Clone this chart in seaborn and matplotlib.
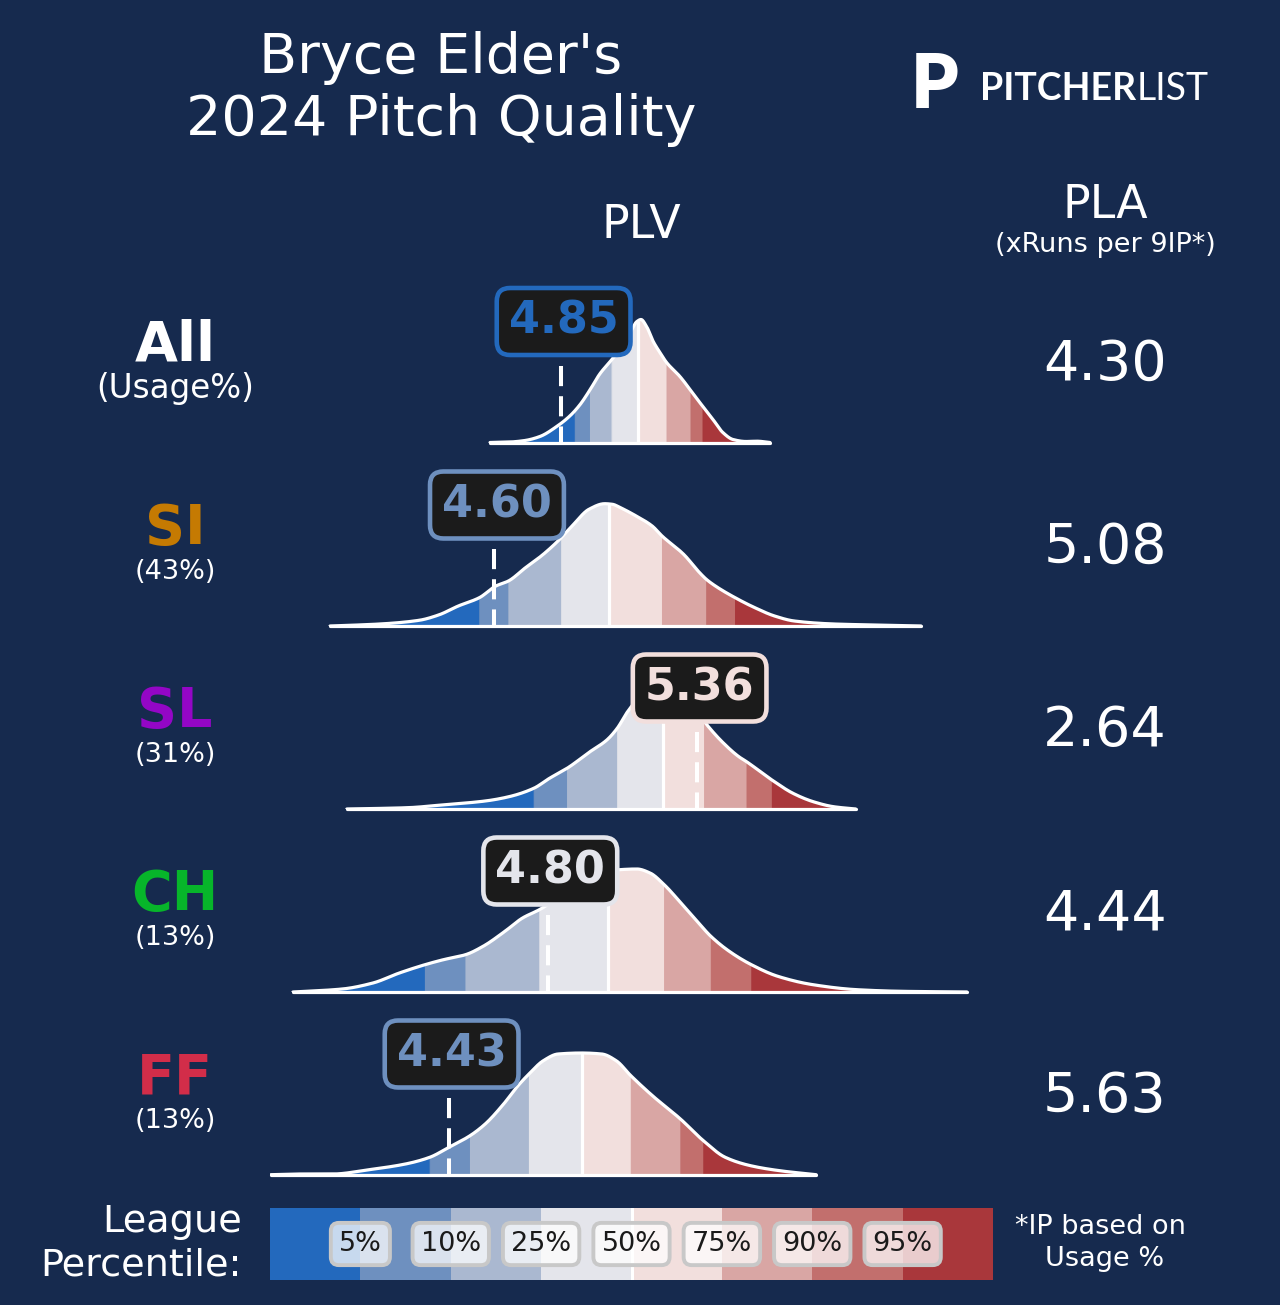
import numpy as np
import matplotlib
matplotlib.use("Agg")
import matplotlib.pyplot as plt
from matplotlib.colors import ListedColormap
import seaborn as sns

# ---------------- data ----------------
pitch_names = ["All", "SI", "SL", "CH", "FF"]
usage_labels = ["(Usage%)", "(43%)", "(31%)", "(13%)", "(13%)"]
name_colors = ["#ffffff", "#c57a02", "#9406c6", "#07b52a", "#d22d49"]
plv_values = [4.85, 4.60, 5.36, 4.80, 4.43]
pla_values = ["4.30", "5.08", "2.64", "4.44", "5.63"]
percentile_labels = ["5%", "10%", "25%", "50%", "75%", "90%", "95%"]

# league distributions (PLV grid, relative density)
all_x = [4.584, 4.659, 4.715, 4.771, 4.834, 4.884, 4.921, 4.959, 4.996, 5.040, 5.079, 5.109, 5.135,
         5.150, 5.171, 5.196, 5.221, 5.246, 5.296, 5.345, 5.382, 5.420, 5.457, 5.495, 5.544, 5.585, 5.634]
all_d = [0, 0.5, 2, 6, 16, 26.7, 37.7, 52.7, 68.7, 82.7, 96, 110, 121,
         123, 116, 101, 90, 80, 66, 49, 36, 23, 10, 3, 1, 1.3, 0]
all_cuts = [4.902, 4.959, 5.040, 5.139, 5.246, 5.336, 5.381]

si_x = [3.984, 4.171, 4.318, 4.391, 4.465, 4.544, 4.606, 4.653, 4.717, 4.776, 4.835, 4.895, 4.955, 5.014,
        5.043, 5.073, 5.132, 5.192, 5.229, 5.310, 5.370, 5.395, 5.429, 5.503, 5.577, 5.651, 5.725, 5.874,
        6.024, 6.200]
si_d = [0, 2, 5.7, 11, 20, 28.3, 40, 45, 58.3, 70, 84, 101, 116.7, 122.3,
        121.7, 118.3, 110, 100, 90, 71.7, 53.3, 46.7, 40, 28.3, 18.3, 10, 5, 2, 1, 0]
si_cuts = [4.544, 4.653, 4.851, 5.030, 5.229, 5.395, 5.503]

sl_x = [4.047, 4.275, 4.402, 4.566, 4.655, 4.748, 4.807, 4.873, 4.959, 5.022, 5.061, 5.099, 5.146, 5.191,
        5.240, 5.296, 5.352, 5.403, 5.454, 5.517, 5.546, 5.641, 5.720, 5.796, 5.872, 5.955]
sl_d = [0, 1.3, 4, 8, 12.3, 20.7, 30.7, 40.7, 57.3, 69, 80.7, 97, 112, 120,
        122, 117, 100, 82.3, 67.3, 52.3, 47.3, 29, 15.7, 7.3, 2.3, 0]
sl_cuts = [4.748, 4.873, 5.061, 5.232, 5.387, 5.546, 5.641]

ch_x = [3.845, 4.030, 4.145, 4.244, 4.340, 4.409, 4.492, 4.558, 4.640, 4.706, 4.769, 4.846, 4.921, 4.996,
        5.069, 5.135, 5.184, 5.237, 5.300, 5.366, 5.412, 5.481, 5.564, 5.663, 5.795, 5.960, 6.125, 6.372]
ch_d = [0, 3, 9, 19, 27.3, 32.3, 37.3, 45.7, 60.7, 74, 82.3, 95, 107, 117,
        122.3, 123, 119, 107.3, 89, 69, 55.7, 40.7, 27.3, 15.7, 7.3, 2.3, 0.7, 0]
ch_cuts = [4.340, 4.492, 4.769, 5.028, 5.237, 5.412, 5.564]

ff_x = [3.762, 3.858, 3.994, 4.130, 4.267, 4.358, 4.430, 4.509, 4.566, 4.635, 4.689, 4.730, 4.784, 4.839,
        4.928, 5.003, 5.057, 5.112, 5.193, 5.298, 5.384, 5.466, 5.561, 5.670, 5.807]
ff_d = [0.3, 1, 1, 5.3, 11, 17.7, 27.7, 39.3, 51, 71, 89.3, 101, 114.3, 121,
        122, 121, 114.3, 99.3, 79.3, 56, 34.3, 17.7, 9.3, 4.3, 0.3]
ff_cuts = [4.358, 4.509, 4.730, 4.928, 5.112, 5.298, 5.384]

dist_x = [all_x, si_x, sl_x, ch_x, ff_x]
dist_d = [all_d, si_d, sl_d, ch_d, ff_d]
dist_cuts = [all_cuts, si_cuts, sl_cuts, ch_cuts, ff_cuts]


def smooth_curve(x, y, xs):
    """Monotone cubic (PCHIP) rendering of the read points."""
    x = np.asarray(x, float)
    y = np.asarray(y, float)
    h = np.diff(x)
    delta = np.diff(y) / h
    n = len(x)
    m = np.zeros(n)
    m[0], m[-1] = delta[0], delta[-1]
    for k in range(1, n - 1):
        if delta[k - 1] * delta[k] <= 0:
            m[k] = 0.0
        else:
            w1 = 2 * h[k] + h[k - 1]
            w2 = h[k] + 2 * h[k - 1]
            m[k] = (w1 + w2) / (w1 / delta[k - 1] + w2 / delta[k])
    idx = np.clip(np.searchsorted(x, xs) - 1, 0, n - 2)
    t = (xs - x[idx]) / h[idx]
    h00 = 2 * t**3 - 3 * t**2 + 1
    h10 = t**3 - 2 * t**2 + t
    h01 = -2 * t**3 + 3 * t**2
    h11 = t**3 - t**2
    return h00 * y[idx] + h10 * h[idx] * m[idx] + h01 * y[idx + 1] + h11 * h[idx] * m[idx + 1]


# ---------------- style ----------------
BG = "#162a4e"
W, H = 1280, 1305
sns.set_theme(style="white")
plt.rcParams["font.family"] = ["DejaVu Sans"]
band_colors = [matplotlib.colors.to_hex(c) for c in
               sns.color_palette("vlag", as_cmap=True)(np.linspace(0, 1, 8))]

fig = plt.figure(figsize=(W / 100, H / 100), dpi=100, facecolor=BG)


def fx(px):
    return px / W


def fy(py):
    return 1 - py / H


# title / header
fig.text(fx(441), fy(58), "Bryce Elder's", ha="center", va="center", fontsize=40, color="white")
fig.text(fx(441), fy(120), "2024 Pitch Quality", ha="center", va="center", fontsize=40, color="white")
fig.text(fx(641), fy(225), "PLV", ha="center", va="center", fontsize=33, color="white")
fig.text(fx(1105), fy(205), "PLA", ha="center", va="center", fontsize=33, color="white")
fig.text(fx(1105), fy(245), "(xRuns per 9IP*)", ha="center", va="center", fontsize=19.5, color="white")

# logo
fig.text(fx(935), fy(86), "P", ha="center", va="center", fontsize=54, color="white",
         family="Lato", fontweight="heavy")
fig.text(fx(980), fy(89), "PITCHER", ha="left", va="center", fontsize=27, color="white",
         family="Lato", fontweight="bold")
fig.text(fx(1137), fy(89), "LIST", ha="left", va="center", fontsize=27, color="white",
         family="Lato", fontweight="normal")

XMIN, XMAX = 3.759, 6.470
AX_L, AX_R = 270, 993
baselines = [442.5, 626, 809, 992, 1175]
AXH = 165

for i, name in enumerate(pitch_names):
    yb = baselines[i]
    ax = fig.add_axes([fx(AX_L), fy(yb), (AX_R - AX_L) / W, AXH / H])
    ax.set_facecolor("none")
    ax.set_xlim(XMIN, XMAX)
    ax.set_ylim(0, AXH)
    ax.axis("off")

    x = np.array(dist_x[i])
    d = np.array(dist_d[i])
    cuts = dist_cuts[i]
    edges = [x[0]] + list(cuts) + [x[-1]]
    for k in range(8):
        a, b = edges[k], edges[k + 1]
        xs = np.linspace(a, b, 200)
        ax.fill_between(xs, 0, smooth_curve(x, d, xs), color=band_colors[k],
                        ec=band_colors[k], lw=0.8, zorder=2)
    # median line
    med = cuts[3]
    ax.plot([med, med], [0, float(smooth_curve(x, d, np.array([med]))[0])], color="white",
            lw=2.3, zorder=3, solid_capstyle="butt")
    # outline
    xs_all = np.linspace(x[0], x[-1], 800)
    sns.lineplot(x=xs_all, y=smooth_curve(x, d, xs_all), color="white", lw=2.3, ax=ax,
                 zorder=4, sort=False)
    ax.plot([x[0], x[-1]], [0, 0], color="white", lw=2.3, zorder=4, clip_on=False)

    # pitcher value
    v = plv_values[i]
    col = band_colors[int(np.searchsorted(cuts, v))]
    ax.plot([v, v], [77, 0], color="white", lw=2.9, dashes=(5, 2.5), zorder=5,
            solid_capstyle="butt", dash_capstyle="butt")
    ax.text(v + 0.01, 121, f"{v:.2f}", ha="center", va="center", fontsize=32,
            fontweight="bold", color=col, zorder=10,
            bbox=dict(boxstyle="round,pad=0.27,rounding_size=0.3", fc="#1b1b1b", ec=col, lw=3.3))

    # left labels
    fig.text(fx(175), fy(yb - 97), name, ha="center", va="center", fontsize=40,
             fontweight="bold", color=name_colors[i])
    fig.text(fx(175), fy(yb - 54), usage_labels[i], ha="center", va="center",
             fontsize=23.5 if i == 0 else 19.5, color="white")
    # PLA
    fig.text(fx(1105), fy(yb - 78), pla_values[i], ha="center", va="center", fontsize=40,
             color="white")

# legend colour bar
cax = fig.add_axes([fx(270), fy(1280), 723 / W, 72 / H])
sns.heatmap(np.arange(8).reshape(1, 8), cmap=ListedColormap(band_colors), cbar=False,
            ax=cax, xticklabels=False, yticklabels=False, vmin=-0.5, vmax=7.5)
cax.axvline(4, color="white", lw=2.2)
for j, lab in enumerate(percentile_labels):
    cax.text(j + 1, 0.5, lab, ha="center", va="center", fontsize=19.5, color="#1a1a1a",
             bbox=dict(boxstyle="round,pad=0.3,rounding_size=0.3", fc=(1, 1, 1, 0.75),
                       ec="#c8c8c8", lw=2.8))
fig.text(fx(242), fy(1222), "League", ha="right", va="center", fontsize=27.5, color="white")
fig.text(fx(242), fy(1265), "Percentile:", ha="right", va="center", fontsize=27.5, color="white")
fig.text(fx(1100), fy(1227), "*IP based on", ha="center", va="center", fontsize=19.5, color="white")
fig.text(fx(1105), fy(1259), "Usage %", ha="center", va="center", fontsize=19.5, color="white")

fig.savefig("out.png", dpi=100, facecolor=BG)
